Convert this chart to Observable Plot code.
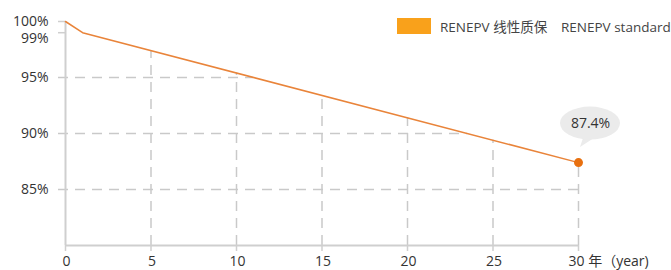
<!DOCTYPE html>
<html><head><meta charset="utf-8">
<script src="https://cdn.jsdelivr.net/npm/d3@7"></script>
<script src="https://cdn.jsdelivr.net/npm/@observablehq/plot@0.6"></script>
<style>
body{margin:0;background:#fff;}
#wrap{position:relative;width:671px;height:270px;font-family:"Open Sans","Noto Sans CJK SC",sans-serif;overflow:hidden;}
#legend{position:absolute;left:0;top:18px;width:671px;height:18px;font-size:13.5px;color:#444;white-space:nowrap;line-height:18px;}
#legend span{position:absolute;top:0;}
.sw{left:397px;width:34px;height:16px;background:#f9a11b;}
</style></head><body>
<div id="wrap"><div id="legend"><span class="sw"></span><span style="left:440px">RENEPV 线性质保</span><span style="left:561px">RENEPV standard</span></div></div>
<script>
// data
const years = [0, 1, 30];
const retention = [100, 99, 87.4];
const xTicks = [0, 5, 10, 15, 20, 25, 30];
const xTickLabels = ["0", "5", "10", "15", "20", "25", "30 年（year)"];
const yTicks = [100, 99, 95, 90, 85];
const yTickLabels = ["100%", "99%", "95%", "90%", "85%"];
const yGrid = [95, 90, 85];

const pts = years.map((t, i) => ({t, v: retention[i]}));
const last = pts[pts.length - 1];
const valueAt = t => {
  for (let i = 0; i < pts.length - 1; i++) {
    const a = pts[i], b = pts[i + 1];
    if (t >= a.t && t <= b.t) return a.v + (b.v - a.v) * (t - a.t) / (b.t - a.t);
  }
  return last.v;
};
const crossAt = v => {
  for (let i = 0; i < pts.length - 1; i++) {
    const a = pts[i], b = pts[i + 1];
    if ((v <= a.v && v >= b.v)) return a.t + (b.t - a.t) * (a.v - v) / (a.v - b.v);
  }
  return last.t;
};

const gridCol = "#c9c9c9";
const axisCol = "#cfcfcf";
const dash = "10,7";
const font = "'Open Sans','Noto Sans CJK SC',sans-serif";

const vGrid = xTicks.slice(1).map(t => ({t, top: valueAt(t)}));
const hGrid = yGrid.map(v => ({v, end: crossAt(v)}));
const yLab = yTicks.map((v, i) => ({v, s: yTickLabels[i]}));
const xLab = xTicks.map((t, i) => ({t, s: xTickLabels[i]}));

const bubble = (index, scales) => {
  const px = scales.x(last.t), py = scales.y(last.v);
  const cx = px + 12, cy = py - 39;
  const g = d3.create("svg:g");
  g.append("path")
    .attr("d", `M${cx - 6},${cy + 12} L${px + 2},${py - 15} L${cx + 7},${cy + 13} Z`)
    .attr("fill", "#ebebeb");
  g.append("ellipse").attr("cx", cx).attr("cy", cy).attr("rx", 30).attr("ry", 16.5).attr("fill", "#ebebeb");
  return g.node();
};

const chart = Plot.plot({
  width: 671,
  height: 270,
  marginLeft: 65,
  marginRight: 93,
  marginTop: 21,
  marginBottom: 25,
  style: {fontFamily: font, background: "transparent", overflow: "visible"},
  x: {domain: [0, 30], axis: null},
  y: {domain: [80, 100], axis: null},
  marks: [
    // dashed drop gridlines
    Plot.ruleX(vGrid, {x: "t", y1: 80, y2: "top", stroke: gridCol, strokeWidth: 1.5, strokeDasharray: dash}),
    Plot.ruleY(hGrid, {y: "v", x1: 0, x2: "end", insetLeft: -7, stroke: gridCol, strokeWidth: 1.5, strokeDasharray: dash}),
    // axes
    Plot.ruleX([0], {y1: 80, y2: 100, stroke: axisCol, strokeWidth: 2}),
    Plot.ruleY([80], {x1: 0, x2: 30, stroke: axisCol, strokeWidth: 2}),
    Plot.ruleY([100, 99], {x1: 0, x2: 0, insetLeft: -7, stroke: axisCol, strokeWidth: 1.5}),
    Plot.ruleX(xTicks, {y1: 80, y2: 80, insetBottom: -6, stroke: axisCol, strokeWidth: 1.5}),
    // y labels
    Plot.text(yLab.filter(d => d.v === 100), {x: 0, y: "v", text: "s", textAnchor: "end", dx: -17, dy: 0, fontSize: 14, fill: "#333"}),
    Plot.text(yLab.filter(d => d.v === 99), {x: 0, y: "v", text: "s", textAnchor: "end", dx: -17, dy: 6, fontSize: 14, fill: "#333"}),
    Plot.text(yLab.filter(d => d.v < 99), {x: 0, y: "v", text: "s", textAnchor: "end", dx: -17, fontSize: 14, fill: "#333"}),
    // x labels
    Plot.text(xLab.slice(0, -1), {x: "t", y: 80, text: "s", dy: 16, dx: 1, fontSize: 14, fill: "#333"}),
    Plot.text(xLab.slice(-1), {x: "t", y: 80, text: "s", dy: 16, dx: -10, textAnchor: "start", fontSize: 14, fill: "#333"}),
    // line
    Plot.line(pts, {x: "t", y: "v", stroke: "#e9843a", strokeWidth: 1.5}),
    Plot.dot([last], {x: "t", y: "v", r: 4.5, fill: "#e8700f"}),
    // annotation bubble
    bubble,
    Plot.text([last], {x: "t", y: "v", text: d => `${d.v}%`, dx: 12, dy: -39, fontSize: 14, fill: "#333"})
  ]
});
document.getElementById("wrap").prepend(chart);
chart.style.position = "absolute";
chart.style.left = "0";
chart.style.top = "0";
</script>
</body></html>
